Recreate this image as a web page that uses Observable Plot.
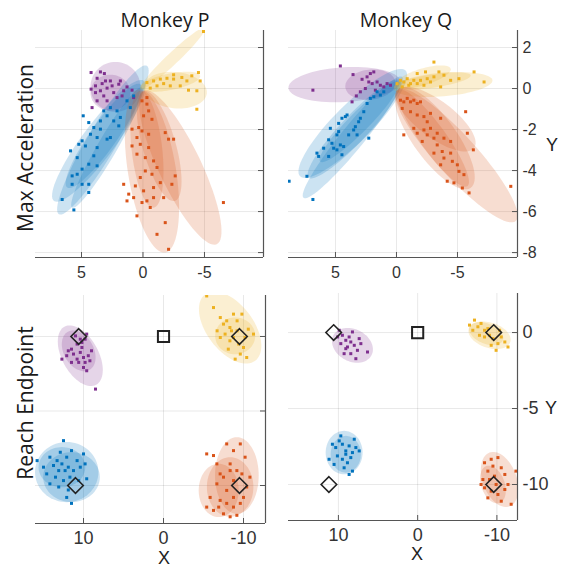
<!DOCTYPE html>
<html><head><meta charset="utf-8">
<script src="https://cdn.jsdelivr.net/npm/d3@7"></script>
<script src="https://cdn.jsdelivr.net/npm/@observablehq/plot@0.6"></script>
<style>
body{margin:0;background:#fff;}
#wrap{position:relative;width:563px;height:568px;overflow:hidden;font-family:"Open Sans",sans-serif;color:#1a1a1a;}
.p{position:absolute;}
.t{position:absolute;white-space:nowrap;line-height:1;transform:translate(-50%,-50%);}
.v{transform:translate(-50%,-50%) rotate(-90deg);}
.ax{font-family:"Liberation Sans",Arial,sans-serif;color:#222;}
</style></head><body><div id="wrap"></div>
<script>
const COLORS = {purple:"#7E2F8E", blue:"#0072BD", yellow:"#EDB120", orange:"#D95319"};
const topXTicks = [5, 0, -5];
const topYTicks = [2, 0, -2, -4, -6, -8];
const botXTicks = [10, 0, -10];
const botYTicks = [0, -5, -10];

// ---- Max Acceleration, Monkey P ----
const tlPurple = [[4.22,0.78],[3.46,0.81],[3.14,0.73],[3.73,0.50],[3.32,0.24],[4.22,-0.03],[3.86,-0.20],[3.46,-0.11],[2.92,0.02],[2.51,0.13],[1.97,0.21],[2.38,-0.20],[3.19,-0.36],[3.73,-0.60],[2.92,-0.60],[4.14,-0.93],[2.11,-0.44],[1.57,-0.11],[1.30,0.08],[0.89,-0.08],[0.76,-0.44],[2.65,0.37],[1.84,0.37],[3.86,0.13],[1.70,-0.36],[3.05,0.37]];
const tlBlue = [[4.86,-1.33],[4.41,-1.66],[5.89,-3.04],[5.22,-2.72],[4.95,-2.55],[4.68,-2.80],[5.35,-3.37],[5.76,-4.26],[5.35,-4.18],[4.95,-3.93],[5.76,-4.67],[4.95,-4.67],[4.41,-4.67],[4.41,-5.07],[6.57,-5.41],[5.62,-5.92],[4.00,-1.90],[3.46,-1.58],[2.92,-1.33],[2.65,-0.93],[2.11,-1.09],[1.97,-1.82],[2.65,-2.39],[2.92,-2.47],[3.73,-2.88],[4.00,-3.28],[3.73,-3.77],[4.41,-3.69],[3.46,-1.98],[2.38,-1.58],[1.84,-1.41],[1.30,-0.60],[0.76,-0.36],[1.03,-0.93],[3.19,-1.09],[3.73,-2.39],[4.27,-2.23]];
const tlYellow = [[-0.32,0.29],[-0.86,0.37],[-1.41,0.46],[-1.95,0.50],[-2.49,0.46],[-3.16,0.54],[-3.57,0.37],[-3.97,0.62],[-4.51,0.78],[-4.65,0.37],[-4.38,-0.11],[-3.70,-0.08],[-3.03,0.13],[-2.22,0.13],[-1.14,0.13],[-0.59,0.02],[-4.38,-1.01],[-4.92,2.78],[-2.49,0.67],[-1.68,0.24]];
const tlOrange = [[0.08,-0.60],[-0.32,-0.76],[-0.46,-1.09],[-0.05,-1.33],[0.35,-1.90],[0.89,-1.98],[0.08,-2.07],[-0.46,-2.23],[0.49,-2.39],[0.22,-2.72],[0.89,-2.80],[-0.46,-2.88],[0.49,-3.20],[-0.19,-3.37],[-0.86,-3.53],[-0.19,-4.02],[-0.73,-4.18],[0.22,-4.34],[-1.41,-4.59],[1.57,-4.67],[0.62,-4.75],[-0.05,-4.99],[-0.86,-4.83],[1.16,-5.15],[-0.32,-5.48],[0.08,-5.56],[-0.86,-5.32],[-2.08,-2.47],[-2.49,-2.47],[-1.81,-2.15],[-2.62,-4.26],[-2.35,-4.67],[-1.68,-5.32],[0.49,-6.21],[-0.59,-5.80],[-1.81,-6.54],[-1.14,-7.11],[-2.08,-7.84],[-6.54,-5.56],[1.30,-5.48],[0.76,-5.32],[-1.14,-3.85],[-0.32,-0.44],[-0.73,-1.50]];
// ellipses: [group, centerX, centerY, halfMajorX, halfMajorY, minor/major ratio]
const tlEllipses = [["purple",2.24,0.08,2.03,0,1],["purple",2.65,-0.20,1.62,0,0.9],["blue",3.26,-2.51,-3.58,3.62,0.17],["blue",3.59,-2.55,-3.65,2.93,0.22],["blue",3.19,-2.31,-2.97,2.52,0.21],["blue",2.92,-2.88,-2.84,2.93,0.14],["yellow",-2.42,1.47,-2.64,1.50,0.13],["yellow",-2.62,-0.08,-2.57,-0.16,0.57],["yellow",-2.22,0.33,-2.43,0.29,0.27],["orange",-0.73,-4.02,-1.08,-3.98,0.29],["orange",-3.03,-3.85,-2.97,-3.74,0.25],["orange",-0.32,-2.96,-0.54,-2.85,0.26],["orange",-1.32,-2.80,-1.27,-2.68,0.29]];

// ---- Max Acceleration, Monkey Q ----
const trPurple = [[4.60,1.10],[3.56,0.68],[2.82,0.45],[2.41,0.57],[2.14,0.73],[1.86,0.81],[2.27,0.32],[1.99,0.24],[1.59,0.32],[1.32,0.16],[1.04,0.08],[0.77,0.24],[6.85,-0.08],[3.29,-0.36],[3.64,-0.65],[2.96,-0.16],[2.55,0],[1.73,-0.08],[0.49,0.16]];
const trBlue = [[8.8,-4.52],[7.34,-4.28],[6.85,-5.41],[6.52,-3.15],[6.38,-3.31],[5.56,-2.50],[5.29,-2.67],[4.88,-2.26],[4.74,-1.70],[4.47,-1.45],[4.19,-1.37],[4.05,-1.29],[5.15,-2.91],[4.47,-3.23],[4.60,-2.75],[4.33,-2.83],[3.92,-2.26],[3.23,-2.26],[3.37,-1.86],[3.10,-1.62],[2.68,-1.13],[2.41,-0.73],[2.27,-2.42],[2.14,-0.48],[1.86,-0.40],[1.59,-0.16],[1.32,-0.32],[1.04,-0.16],[4.88,-2.99],[5.56,-3.31],[5.97,-2.91],[3.51,-2.02],[2.96,-1.45],[5.42,-1.94],[4.74,-2.10]];
const trYellow = [[-0.05,0.24],[-0.33,0.40],[-0.60,0.32],[-0.88,0.48],[-1.15,0.24],[-1.42,0.40],[-1.70,0.73],[-1.97,0.40],[-2.38,0.81],[-2.52,0.48],[-2.79,0.32],[-3.07,1.29],[-3.48,0.81],[-3.62,0.08],[-4.44,0.40],[-5.12,0.48],[-6.36,0.81],[-7.18,0.32],[-2.25,0.16],[-0.47,0.08],[-1.01,0.16],[-1.70,0.24],[-3.07,0.57],[-3.89,0.65]];
const trOrange = [[-0.33,-0.57],[-0.60,-0.65],[-0.88,-0.48],[-1.15,-0.65],[-1.42,-0.57],[-1.70,-0.73],[-1.97,-0.65],[-0.47,-0.97],[-1.15,-1.13],[-1.70,-1.29],[-2.25,-1.37],[-2.52,-1.62],[-2.79,-1.21],[-3.62,-1.45],[-0.60,-2.26],[-1.42,-1.94],[-1.70,-2.18],[-2.25,-2.02],[-2.52,-2.26],[-3.07,-2.42],[-3.34,-2.75],[-3.75,-3.07],[-3.89,-3.39],[-4.44,-3.15],[-4.58,-3.55],[-4.16,-4.52],[-4.71,-4.60],[-5.12,-4.04],[-5.40,-4.85],[-5.95,-5.09],[-5.81,-2.18],[-6.30,-2.99],[-5.67,-1.13],[-9.37,-4.77],[-2.79,-1.94],[-3.34,-2.18],[-3.89,-2.42],[-4.44,-2.58],[-2.11,-2.58],[-3.07,-3.15],[-3.62,-3.72],[-4.99,-3.72],[-5.53,-4.20]];
const trEllipses = [["purple",4.27,0.19,-4.58,0.16,0.31],["purple",2.14,0.19,-2.05,0.13,0.6],["blue",3.58,-1.70,-4.32,2.58,0.25],["blue",3.58,-2.38,-4.04,2.95,0.15],["blue",3.45,-1.97,-3.75,2.37,0.2],["blue",3.04,-1.62,-3.21,1.94,0.18],["yellow",-3.82,0.20,-4.04,0.20,0.24],["yellow",-2.18,0.57,-2.26,0.40,0.29],["yellow",-2.93,0.36,-3.15,0.28,0.17],["orange",-4.92,-3.27,-4.86,-3.19,0.23],["orange",-3.14,-2.42,-2.95,-2.42,0.35],["orange",-3.21,-1.49,-3.15,-1.41,0.38],["orange",-3.0,-2.42,-2.81,-2.34,0.22]];

// ---- Reach Endpoint, Monkey P ----
const blPurple = [[12.7,-1.52],[12.1,-1.29],[11.5,-0.85],[11.25,-1.18],[10.8,-0.51],[10.2,-0.40],[9.8,-0.18],[9.6,0.16],[11.0,0.04],[10.4,-1.07],[10.0,-1.41],[9.4,-1.29],[9.2,-1.63],[10.6,-1.74],[10.0,-2.08],[9.6,-2.30],[8.5,-3.53],[11.5,-1.74],[9.0,-0.96],[11.9,-0.96],[10.2,-0.74],[10.8,-1.52],[9.8,-1.74],[10.4,-0.18]];
const blBlue = [[15.8,-8.33],[15.0,-8.77],[14.2,-8.1],[13.75,-8.66],[13.3,-8.33],[13.1,-9.0],[12.7,-8.55],[12.5,-6.99],[12.3,-9.0],[12.1,-8.1],[11.9,-8.77],[11.7,-9.44],[11.5,-7.66],[11.25,-9.0],[10.8,-8.33],[10.4,-8.77],[10.0,-7.88],[9.8,-8.55],[9.6,-9.55],[14.2,-9.89],[13.1,-10.1],[12.1,-10.8],[11.5,-11.2],[11.9,-10.3],[13.5,-9.44],[12.9,-7.77],[10.6,-9.67],[14.6,-9.22],[12.5,-9.67]];
const blYellow = [[-5.4,2.72],[-6.25,1.94],[-7.1,1.27],[-7.5,0.83],[-7.9,1.05],[-8.3,0.60],[-8.75,1.50],[-9.2,1.05],[-7.1,-0.07],[-7.7,0.16],[-8.3,-0.29],[-8.75,-0.07],[-9.4,-0.51],[-10.0,-0.74],[-10.4,-1.41],[-9.6,-1.18],[-10.6,0.49],[-11.25,0.16],[-8.5,0.38],[-6.7,0.38],[-9.2,0.38],[-10.2,-0.07],[-8.1,-0.85],[-8.96,-1.52],[-9.8,1.5]];
const blOrange = [[-5.4,-7.88],[-6.25,-7.99],[-6.67,-8.55],[-7.9,-7.21],[-8.75,-7.66],[-9.6,-7.21],[-10.2,-8.1],[-8.33,-9.0],[-7.5,-9.44],[-8.75,-9.67],[-9.17,-9.0],[-6.67,-9.89],[-5.83,-10.8],[-7.08,-11.0],[-7.9,-10.33],[-8.75,-10.8],[-9.6,-11.2],[-10.4,-10.1],[-10.8,-9.44],[-5.4,-11.45],[-6.25,-11.67],[-7.5,-11.9],[-8.33,-12.1],[-9.17,-12.0],[-7.08,-9.22],[-8.33,-8.55],[-9.8,-9.22],[-6.9,-11.45],[-8.75,-11.45],[-7.9,-11.2],[-10.0,-10.8]];
const blEllipses = [["purple",10.4,-1.29,-1.98,-1.95,0.55],["purple",10.6,-0.96,-1.35,-1.28,0.68],["blue",12.1,-9.1,-3.96,0,0.95],["blue",11.5,-9.44,-3.54,0,0.88],["blue",12.7,-8.77,-2.92,0,0.86],["yellow",-8.33,0.60,-3.13,-2.23,0.56],["yellow",-8.96,0.04,-2.5,0,0.92],["orange",-9.17,-9.33,0,-2.57,0.57],["orange",-6.9,-10.33,0,-1.79,0.75],["orange",-8.33,-10.1,0,-2.0,0.78]];
const blTargets = [[10.6,0],[-9.5,0],[11.0,-10],[-9.5,-10]];

// ---- Reach Endpoint, Monkey Q ----
const brPurple = [[9.9,0.15],[9.5,-0.18],[9.07,-0.51],[8.65,-0.29],[8.23,0.04],[9.7,-0.73],[8.86,-0.95],[8.0,-0.84],[7.6,-1.17],[7.17,-0.73],[8.44,-1.39],[9.28,-1.39],[7.8,-1.72],[6.33,-1.28],[10.1,-0.29],[7.38,-0.40],[8.44,-0.62],[9.07,-1.06]];
const brBlue = [[10.76,-7.35],[10.34,-7.57],[9.7,-6.8],[9.5,-7.35],[9.07,-7.79],[8.65,-7.46],[8.23,-7.9],[7.8,-7.57],[7.38,-7.79],[10.13,-8.12],[9.5,-8.34],[8.86,-8.57],[8.23,-9.12],[11.18,-8.34],[10.55,-8.68],[9.28,-8.9],[8.65,-9.34],[9.9,-7.13],[8.44,-8.23],[8.0,-7.02],[9.07,-8.01]];
const brYellow = [[-6.54,0.49],[-7.17,0.82],[-7.6,0.38],[-8.0,0.6],[-8.44,0.15],[-8.86,0.26],[-9.07,-0.18],[-9.5,-0.4],[-10.13,-0.73],[-9.9,-1.17],[-10.55,-0.29],[-11.0,-0.62],[-11.4,-0.95],[-7.8,-0.18],[-8.44,-0.29],[-9.28,-0.84],[-6.96,0.15],[-10.34,0.15]];
const brOrange = [[-8.44,-8.57],[-9.28,-8.34],[-10.13,-8.23],[-8.86,-9.12],[-8.23,-9.67],[-9.07,-9.67],[-9.7,-9.45],[-10.55,-8.9],[-11.0,-9.34],[-12.4,-9.12],[-8.44,-10.22],[-9.28,-10.44],[-10.13,-10.66],[-11.0,-10.33],[-10.55,-11.1],[-11.8,-11.3],[-8.86,-10.88],[-8.0,-10.0],[-9.9,-10.0],[-11.4,-10.0],[-9.5,-8.79]];
const brEllipses = [["purple",8.23,-0.84,-2.4,-0.66,0.75],["blue",9.28,-7.9,0,-1.43,0.85],["blue",9.07,-8.01,0,-1.21,0.82],["yellow",-9.07,-0.18,-2.62,-0.44,0.58],["yellow",-8.65,-0.07,-2.11,-0.44,0.56],["orange",-10.34,-9.67,-1.27,-1.77,0.59],["orange",-9.5,-10.0,-0.84,-1.21,0.6]];
const brTargets = [[10.6,0],[-9.6,0],[11.2,-10],[-9.6,-10]];
const homePos = [[0,0]];

const wrap = document.getElementById("wrap");

function panel(cfg) {
  const {left, top, width, height, ml, mr, mt, mb, xDomain, yDomain, xTicks, yTicks, yLabels, groups, ells, targets, fs, xPad} = cfg;
  const iw = width - ml - mr, ih = height - mt - mb;
  const kx = iw / Math.abs(xDomain[1] - xDomain[0]);
  const ky = ih / Math.abs(yDomain[1] - yDomain[0]);
  const ellPts = [];
  ells.forEach(([c, cx, cy, ux, uy, r], i) => {
    const vx = -r * uy * ky / kx, vy = r * ux * kx / ky;
    for (let j = 0; j < 72; j++) {
      const t = 2 * Math.PI * j / 72;
      ellPts.push({id: i, c: COLORS[c], x: cx + ux * Math.cos(t) + vx * Math.sin(t), y: cy + uy * Math.cos(t) + vy * Math.sin(t)});
    }
  });
  const dots = [];
  for (const [c, arr] of Object.entries(groups)) arr.forEach(([x, y]) => dots.push({c: COLORS[c], x, y}));
  const marks = [
    Plot.gridX(xTicks, {stroke: "#000", strokeOpacity: 0.09}),
    Plot.gridY(yTicks, {stroke: "#000", strokeOpacity: 0.09}),
    Plot.line(ellPts, {x: "x", y: "y", z: "id", fill: "c", fillOpacity: 0.2, stroke: null, curve: "linear-closed", clip: true}),
    Plot.dot(dots, {x: "x", y: "y", fill: "c", symbol: "square", r: 1.7, stroke: null, clip: true}),
    Plot.ruleY([yDomain[0]], {stroke: "#555", strokeWidth: 1.2}),
    Plot.ruleX([xDomain[1]], {stroke: "#555", strokeWidth: 1.2}),
    Plot.tickX(xTicks, {x: d => d, insetTop: ih - 5, stroke: "#555"}),
    Plot.tickY(yTicks, {y: d => d, insetLeft: iw - 5, stroke: "#555"}),
    Plot.axisX(xTicks, {anchor: "bottom", tickSize: 0, tickPadding: xPad, label: null, tickFormat: d => String(d), fontSize: fs})
  ];
  if (yLabels) marks.push(Plot.axisY(yTicks, {anchor: "right", tickSize: 0, tickPadding: 5, label: null, tickFormat: d => String(d), fontSize: fs}));
  if (targets) {
    marks.push(Plot.dot(homePos, {x: d => d[0], y: d => d[1], symbol: "square", r: 6.3, stroke: "#222", strokeWidth: 2, fill: "none"}));
    marks.push(Plot.dot(targets, {x: d => d[0], y: d => d[1], symbol: "diamond2", r: 7, stroke: "#222", strokeWidth: 1.6, fill: "none"}));
  }
  const svg = Plot.plot({
    width, height, marginLeft: ml, marginRight: mr, marginTop: mt, marginBottom: mb,
    x: {domain: xDomain, axis: null},
    y: {domain: yDomain, axis: null},
    color: {type: "identity"},
    style: {fontFamily: "'Liberation Sans', Arial, sans-serif", fontSize: fs + "px", color: "#333", background: "transparent", overflow: "visible"},
    marks
  });
  svg.classList.add("p");
  svg.style.left = left + "px";
  svg.style.top = top + "px";
  wrap.appendChild(svg);
}

panel({left: 0, top: 0, width: 280, height: 290, ml: 35, mr: 17, mt: 30, mb: 33, fs: 16, xPad: 9,
  xDomain: [8.74, -9.8], yDomain: [-8.24, 2.83], xTicks: topXTicks, yTicks: topYTicks, yLabels: false,
  groups: {purple: tlPurple, blue: tlBlue, yellow: tlYellow, orange: tlOrange}, ells: tlEllipses});
panel({left: 270, top: 0, width: 293, height: 290, ml: 18, mr: 46, mt: 30, mb: 33, fs: 16, xPad: 9,
  xDomain: [8.85, -9.92], yDomain: [-8.24, 2.83], xTicks: topXTicks, yTicks: topYTicks, yLabels: true,
  groups: {purple: trPurple, blue: trBlue, yellow: trYellow, orange: trOrange}, ells: trEllipses});
panel({left: 0, top: 265, width: 280, height: 303, ml: 35, mr: 15, mt: 30, mb: 45, fs: 18, xPad: 8,
  xDomain: [16, -12.75], yDomain: [-12.55, 2.75], xTicks: botXTicks, yTicks: botYTicks, yLabels: false,
  groups: {purple: blPurple, blue: blBlue, yellow: blYellow, orange: blOrange}, ells: blEllipses, targets: blTargets});
panel({left: 270, top: 265, width: 293, height: 303, ml: 18, mr: 46, mt: 28, mb: 48, fs: 18, xPad: 8,
  xDomain: [16.3, -12.6], yDomain: [-12.37, 2.57], xTicks: botXTicks, yTicks: botYTicks, yLabels: true,
  groups: {purple: brPurple, blue: brBlue, yellow: brYellow, orange: brOrange}, ells: brEllipses, targets: brTargets});

const labels = [
  ["Monkey P", 165, 20, false, 19.5, ""], ["Monkey Q", 406, 20, false, 19.5, ""],
  ["Max Acceleration", 25, 148, true, 21, ""], ["Reach Endpoint", 25, 403, true, 21, ""],
  ["Y", 552, 145, false, 18, "ax"], ["Y", 551, 408, false, 18, "ax"],
  ["X", 164, 558, false, 18, "ax"], ["X", 417, 554, false, 18, "ax"]
];
for (const [txt, x, y, vert, size, cls] of labels) {
  const d = document.createElement("div");
  d.className = "t" + (vert ? " v" : "") + (cls ? " " + cls : "");
  d.textContent = txt;
  d.style.left = x + "px";
  d.style.top = y + "px";
  d.style.fontSize = size + "px";
  wrap.appendChild(d);
}
</script></body></html>
